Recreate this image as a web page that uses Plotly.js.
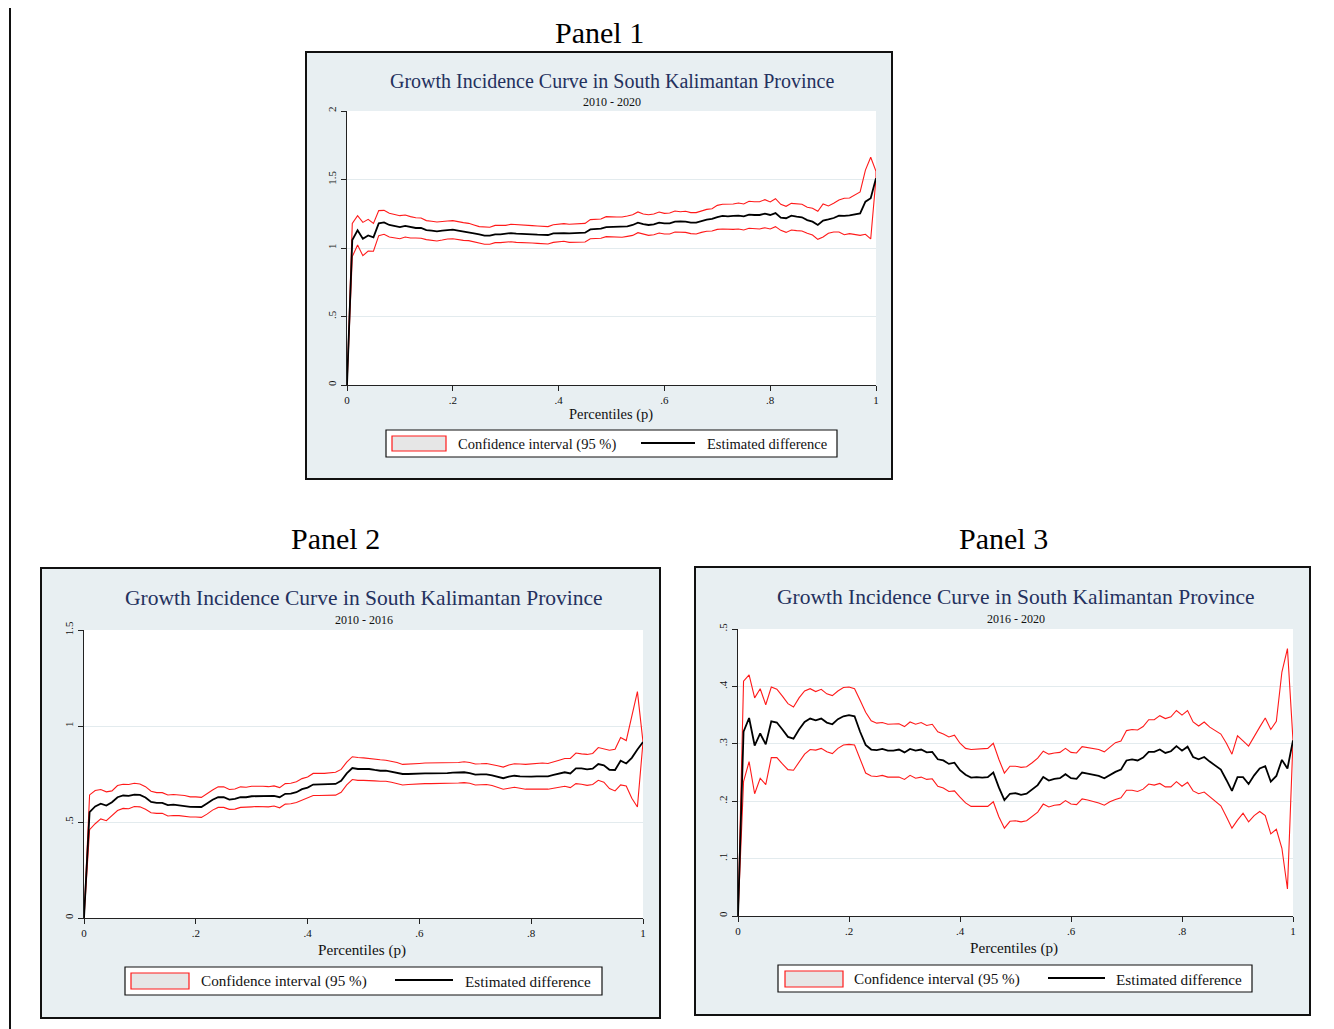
<!DOCTYPE html>
<html>
<head>
<meta charset="utf-8">
<script src="https://cdn.plot.ly/plotly-3.0.1.min.js"></script>
<style>html,body{margin:0;padding:0;background:#fff}#chart{width:1334px;height:1029px}</style>
</head>
<body>
<div id="chart"></div>
<script>
// ---------------- DATA ----------------
const percentiles = [0,0.01,0.02,0.03,0.04,0.05,0.06,0.07,0.08,0.09,0.10,
0.11,0.12,0.13,0.14,0.15,0.16,0.17,0.18,0.19,0.20,
0.21,0.22,0.23,0.24,0.25,0.26,0.27,0.28,0.29,0.30,
0.31,0.32,0.33,0.34,0.35,0.36,0.37,0.38,0.39,0.40,
0.41,0.42,0.43,0.44,0.45,0.46,0.47,0.48,0.49,0.50,
0.51,0.52,0.53,0.54,0.55,0.56,0.57,0.58,0.59,0.60,
0.61,0.62,0.63,0.64,0.65,0.66,0.67,0.68,0.69,0.70,
0.71,0.72,0.73,0.74,0.75,0.76,0.77,0.78,0.79,0.80,
0.81,0.82,0.83,0.84,0.85,0.86,0.87,0.88,0.89,0.90,
0.91,0.92,0.93,0.94,0.95,0.96,0.97,0.98,0.99,1.00];

// Panel 1: 2010 - 2020
const p1Est = [0,1.058,1.129,1.068,1.092,1.078,1.180,1.187,1.168,1.158,1.153,
1.161,1.151,1.146,1.146,1.131,1.127,1.122,1.127,1.131,1.134,
1.127,1.122,1.117,1.107,1.100,1.090,1.090,1.100,1.100,1.105,
1.109,1.105,1.105,1.102,1.100,1.097,1.095,1.095,1.107,1.109,
1.109,1.107,1.107,1.109,1.112,1.136,1.136,1.141,1.153,1.153,
1.153,1.153,1.158,1.168,1.185,1.175,1.168,1.173,1.185,1.180,
1.180,1.192,1.195,1.192,1.185,1.185,1.197,1.207,1.212,1.226,
1.234,1.231,1.234,1.236,1.231,1.243,1.241,1.241,1.251,1.241,
1.255,1.221,1.217,1.236,1.229,1.224,1.204,1.192,1.168,1.200,
1.209,1.219,1.236,1.234,1.238,1.248,1.253,1.338,1.363,1.509];
const p1Hi = [0,1.180,1.236,1.187,1.209,1.180,1.273,1.275,1.253,1.243,1.236,
1.241,1.229,1.221,1.219,1.200,1.195,1.190,1.195,1.197,1.200,
1.190,1.185,1.180,1.168,1.156,1.151,1.151,1.165,1.163,1.165,
1.173,1.168,1.168,1.165,1.163,1.161,1.156,1.156,1.170,1.173,
1.178,1.173,1.175,1.178,1.180,1.207,1.209,1.212,1.229,1.229,
1.226,1.226,1.234,1.243,1.263,1.248,1.243,1.248,1.263,1.253,
1.255,1.270,1.265,1.268,1.258,1.258,1.270,1.282,1.287,1.311,
1.319,1.319,1.321,1.328,1.321,1.341,1.338,1.338,1.353,1.336,
1.360,1.319,1.304,1.326,1.324,1.319,1.297,1.290,1.268,1.321,
1.307,1.326,1.350,1.363,1.365,1.387,1.409,1.569,1.662,1.560];
const p1Lo = [0,0.937,1.022,0.944,0.978,0.976,1.090,1.100,1.080,1.073,1.068,
1.080,1.073,1.073,1.071,1.061,1.056,1.051,1.058,1.066,1.068,
1.061,1.056,1.054,1.044,1.039,1.027,1.027,1.039,1.039,1.044,
1.046,1.041,1.041,1.039,1.036,1.034,1.032,1.029,1.041,1.044,
1.049,1.041,1.041,1.041,1.044,1.068,1.068,1.071,1.083,1.083,
1.080,1.078,1.085,1.092,1.112,1.100,1.092,1.097,1.109,1.102,
1.102,1.117,1.114,1.114,1.105,1.102,1.114,1.122,1.124,1.136,
1.139,1.136,1.136,1.139,1.131,1.144,1.139,1.139,1.148,1.139,
1.156,1.129,1.114,1.131,1.127,1.124,1.107,1.095,1.063,1.080,
1.107,1.117,1.117,1.097,1.105,1.100,1.092,1.100,1.066,1.509];

// Panel 2: 2010 - 2016
const p2Est = [0,0.552,0.581,0.595,0.586,0.603,0.629,0.638,0.636,0.643,0.641,
0.628,0.605,0.600,0.600,0.588,0.590,0.588,0.583,0.579,0.579,
0.578,0.597,0.616,0.629,0.629,0.617,0.621,0.629,0.629,0.634,
0.634,0.634,0.633,0.636,0.629,0.647,0.648,0.655,0.671,0.679,
0.695,0.695,0.695,0.697,0.698,0.714,0.753,0.781,0.776,0.776,
0.776,0.771,0.767,0.767,0.762,0.755,0.750,0.750,0.752,0.753,
0.753,0.753,0.753,0.755,0.755,0.757,0.757,0.759,0.755,0.747,
0.748,0.748,0.743,0.736,0.728,0.736,0.741,0.738,0.736,0.736,
0.738,0.738,0.738,0.745,0.753,0.759,0.753,0.779,0.779,0.774,
0.778,0.802,0.795,0.772,0.771,0.819,0.805,0.834,0.878,0.917];
const p2Hi = [0,0.641,0.664,0.669,0.657,0.662,0.690,0.697,0.695,0.702,0.698,
0.684,0.660,0.653,0.653,0.641,0.643,0.641,0.638,0.631,0.631,
0.628,0.647,0.667,0.683,0.683,0.669,0.672,0.683,0.681,0.686,
0.686,0.686,0.684,0.688,0.679,0.700,0.702,0.710,0.726,0.734,
0.753,0.753,0.753,0.755,0.759,0.774,0.812,0.840,0.836,0.834,
0.833,0.828,0.824,0.822,0.817,0.810,0.800,0.800,0.803,0.805,
0.807,0.807,0.807,0.809,0.809,0.810,0.810,0.814,0.810,0.802,
0.803,0.805,0.800,0.793,0.786,0.797,0.803,0.802,0.800,0.800,
0.805,0.807,0.805,0.814,0.822,0.831,0.831,0.859,0.855,0.852,
0.857,0.888,0.881,0.874,0.879,0.940,0.924,1.047,1.179,0.917];
const p2Lo = [0,0.460,0.491,0.516,0.507,0.533,0.560,0.571,0.569,0.581,0.579,
0.566,0.548,0.545,0.545,0.531,0.534,0.533,0.529,0.526,0.526,
0.524,0.541,0.562,0.576,0.576,0.566,0.567,0.576,0.576,0.579,
0.581,0.581,0.579,0.583,0.574,0.593,0.595,0.602,0.614,0.624,
0.638,0.638,0.638,0.638,0.640,0.655,0.693,0.721,0.717,0.717,
0.717,0.714,0.712,0.712,0.707,0.702,0.693,0.695,0.697,0.700,
0.700,0.700,0.700,0.702,0.702,0.702,0.703,0.705,0.702,0.693,
0.695,0.695,0.690,0.681,0.671,0.676,0.681,0.676,0.671,0.671,
0.672,0.672,0.671,0.676,0.681,0.686,0.679,0.700,0.697,0.691,
0.695,0.717,0.707,0.674,0.662,0.693,0.688,0.624,0.578,0.917];

// Panel 3: 2016 - 2020
const p3Est = [0,0.321,0.345,0.297,0.318,0.299,0.339,0.337,0.325,0.312,0.309,
0.325,0.338,0.344,0.341,0.344,0.337,0.334,0.343,0.348,0.350,
0.348,0.321,0.298,0.290,0.289,0.291,0.288,0.288,0.290,0.285,
0.291,0.288,0.290,0.285,0.286,0.273,0.271,0.265,0.267,0.254,
0.246,0.241,0.242,0.241,0.242,0.250,0.224,0.202,0.213,0.214,
0.211,0.213,0.220,0.228,0.242,0.236,0.239,0.240,0.247,0.240,
0.239,0.250,0.248,0.246,0.244,0.240,0.246,0.251,0.255,0.271,
0.273,0.271,0.276,0.286,0.286,0.290,0.284,0.287,0.296,0.288,
0.295,0.277,0.273,0.277,0.269,0.262,0.255,0.237,0.218,0.242,
0.242,0.230,0.245,0.257,0.261,0.234,0.244,0.272,0.257,0.306];
const p3Hi = [0,0.409,0.420,0.380,0.396,0.368,0.399,0.395,0.383,0.370,0.364,
0.380,0.392,0.396,0.391,0.395,0.387,0.384,0.392,0.398,0.399,
0.396,0.376,0.355,0.340,0.336,0.337,0.334,0.334,0.335,0.330,
0.338,0.334,0.337,0.332,0.334,0.321,0.317,0.312,0.315,0.301,
0.292,0.290,0.291,0.291,0.292,0.301,0.273,0.249,0.261,0.261,
0.259,0.260,0.267,0.275,0.287,0.282,0.284,0.285,0.292,0.285,
0.284,0.295,0.293,0.292,0.290,0.286,0.294,0.302,0.305,0.323,
0.325,0.324,0.330,0.342,0.342,0.349,0.344,0.347,0.358,0.350,
0.358,0.338,0.331,0.338,0.329,0.323,0.317,0.301,0.282,0.314,
0.305,0.296,0.313,0.329,0.345,0.325,0.339,0.425,0.466,0.306];
const p3Lo = [0,0.234,0.269,0.213,0.240,0.229,0.276,0.276,0.265,0.255,0.254,
0.268,0.282,0.290,0.289,0.292,0.286,0.283,0.292,0.298,0.299,
0.298,0.272,0.249,0.244,0.243,0.245,0.242,0.242,0.242,0.238,
0.245,0.240,0.242,0.238,0.239,0.226,0.223,0.217,0.218,0.207,
0.197,0.191,0.191,0.191,0.191,0.199,0.173,0.153,0.165,0.166,
0.164,0.166,0.173,0.181,0.195,0.190,0.193,0.194,0.201,0.195,
0.194,0.204,0.202,0.200,0.197,0.193,0.199,0.203,0.206,0.219,
0.219,0.217,0.221,0.230,0.228,0.231,0.225,0.225,0.234,0.226,
0.233,0.218,0.213,0.216,0.208,0.201,0.192,0.173,0.153,0.167,
0.179,0.164,0.175,0.182,0.175,0.143,0.151,0.118,0.047,0.306];

const xTickVals = [0,0.2,0.4,0.6,0.8,1];
const xTickText = ['0','.2','.4','.6','.8','1'];
const y1TickVals = [0,0.5,1,1.5,2];
const y1TickText = ['0','.5','1','1.5','2'];
const y2TickVals = [0,0.5,1,1.5];
const y2TickText = ['0','.5','1','1.5'];
const y3TickVals = [0,0.1,0.2,0.3,0.4,0.5];
const y3TickText = ['0','.1','.2','.3','.4','.5'];

const panelLabels = ['Panel 1','Panel 2','Panel 3'];
const chartTitle = 'Growth Incidence Curve in South Kalimantan Province';
const subtitles = ['2010 - 2020','2010 - 2016','2016 - 2020'];
const xTitle = 'Percentiles (p)';
const legendCI = 'Confidence interval (95 %)';
const legendEst = 'Estimated difference';

// ---------------- LAYOUT HELPERS ----------------
const W = 1334, H = 1029;
const px = v => v / W;
const py = v => 1 - v / H;
const SERIF = 'Liberation Serif, Times New Roman, serif';
const NAVY = '#24315e';
const REGION = '#e8eff2';
const GRID = '#e3ebee';

// pixel geometry of each panel (style only)
const geo = [
  {box:[306,52,892,479], plot:[347,111,876,385], label:[599,32], title:[612,81,20], sub:[612,102],
   xt:[611,414,14.5], leg:[386,430,837,457], sw:[392,436,446,451], t1:456, ln:[641,695], t2:705, ly:444, lf:14.5},
  {box:[41,568,660,1018], plot:[84,630,643,918], label:[335,538], title:[364,598,21.5], sub:[364,620],
   xt:[362,950,15.2], leg:[125,967,602,995], sw:[131,973,189,989], t1:199, ln:[395,453], t2:463, ly:981, lf:15.2},
  {box:[695,567,1310,1015], plot:[738,629,1293,916], label:[1003,538], title:[1016,597,21.5], sub:[1016,619],
   xt:[1014,948,15.2], leg:[778,965,1252,992], sw:[785,971,843,987], t1:852, ln:[1048,1105], t2:1114, ly:979, lf:15.2}
];

const series = [
  {est:p1Est, hi:p1Hi, lo:p1Lo, range:[0,2], tv:y1TickVals, tt:y1TickText},
  {est:p2Est, hi:p2Hi, lo:p2Lo, range:[0,1.5], tv:y2TickVals, tt:y2TickText},
  {est:p3Est, hi:p3Hi, lo:p3Lo, range:[0,0.5], tv:y3TickVals, tt:y3TickText}
];

const traces = [];
const layout = {
  width: W, height: H,
  margin: {l:0, r:0, t:0, b:0},
  paper_bgcolor: '#ffffff',
  plot_bgcolor: '#ffffff',
  showlegend: false,
  font: {family: SERIF, color: '#111'},
  shapes: [], annotations: []
};

// left vertical rule
layout.shapes.push({type:'line', xref:'paper', yref:'paper', x0:px(10), x1:px(10), y0:py(8), y1:py(1029),
  line:{color:'#111', width:2}, layer:'above'});

series.forEach((s, i) => {
  const g = geo[i];
  const n = i === 0 ? '' : String(i + 1);
  const xa = 'x' + n, ya = 'y' + n;

  // outer graph region
  layout.shapes.push({type:'rect', xref:'paper', yref:'paper', layer:'below',
    x0:px(g.box[0]), x1:px(g.box[2]), y0:py(g.box[3]), y1:py(g.box[1]),
    fillcolor:REGION, line:{color:'#111', width:2}});
  // white plot region on top of the graph region
  layout.shapes.push({type:'rect', xref:'paper', yref:'paper', layer:'below',
    x0:px(g.plot[0]), x1:px(g.plot[2]), y0:py(g.plot[3]), y1:py(g.plot[1]),
    fillcolor:'#ffffff', line:{width:0}});

  // axes
  layout['xaxis' + n] = {
    domain:[px(g.plot[0]), px(g.plot[2])], anchor:ya, range:[0,1],
    tickvals:xTickVals, ticktext:xTickText, ticks:'outside', ticklen:5, tickwidth:1, tickcolor:'#222',
    showline:true, linecolor:'#222', linewidth:1.2, showgrid:false, zeroline:false,
    tickfont:{family:SERIF, size:11, color:'#111'}, fixedrange:true
  };
  layout['yaxis' + n] = {
    domain:[py(g.plot[3]), py(g.plot[1])], anchor:xa, range:s.range,
    tickvals:s.tv, ticktext:s.tt, ticks:'outside', ticklen:5, tickwidth:1, tickcolor:'#222', tickangle:-90,
    showline:true, linecolor:'#222', linewidth:1.2, showgrid:true, gridcolor:GRID, gridwidth:1, zeroline:false,
    tickfont:{family:SERIF, size:11, color:'#111'}, fixedrange:true
  };

  // confidence band outline (lower path then upper path back)
  traces.push({
    type:'scatter', mode:'lines', xaxis:xa, yaxis:ya, name:legendCI,
    x: percentiles.concat(percentiles.slice().reverse()),
    y: s.lo.concat(s.hi.slice().reverse()),
    line:{color:'#ff1a1a', width:1.1}, hoverinfo:'skip'
  });
  // estimated difference
  traces.push({
    type:'scatter', mode:'lines', xaxis:xa, yaxis:ya, name:legendEst,
    x: percentiles, y: s.est,
    line:{color:'#000000', width:1.8}
  });

  // panel label
  layout.annotations.push({text:panelLabels[i], xref:'paper', yref:'paper', x:px(g.label[0]), y:py(g.label[1]),
    xanchor:'center', yanchor:'middle', showarrow:false, font:{family:SERIF, size:30, color:'#000'}});
  // chart title
  layout.annotations.push({text:chartTitle, xref:'paper', yref:'paper', x:px(g.title[0]), y:py(g.title[1]),
    xanchor:'center', yanchor:'middle', showarrow:false, font:{family:SERIF, size:g.title[2], color:NAVY}});
  // subtitle
  layout.annotations.push({text:subtitles[i], xref:'paper', yref:'paper', x:px(g.sub[0]), y:py(g.sub[1]),
    xanchor:'center', yanchor:'middle', showarrow:false, font:{family:SERIF, size:12, color:'#111'}});
  // x-axis title
  layout.annotations.push({text:xTitle, xref:'paper', yref:'paper', x:px(g.xt[0]), y:py(g.xt[1]),
    xanchor:'center', yanchor:'middle', showarrow:false, font:{family:SERIF, size:g.xt[2], color:'#111'}});

  // legend box
  layout.shapes.push({type:'rect', xref:'paper', yref:'paper', layer:'above',
    x0:px(g.leg[0]), x1:px(g.leg[2]), y0:py(g.leg[3]), y1:py(g.leg[1]),
    fillcolor:'#ffffff', line:{color:'#111', width:1.2}});
  layout.shapes.push({type:'rect', xref:'paper', yref:'paper', layer:'above',
    x0:px(g.sw[0]), x1:px(g.sw[2]), y0:py(g.sw[3]), y1:py(g.sw[1]),
    fillcolor:'#e6e6e6', line:{color:'#ff1a1a', width:1.2}});
  layout.shapes.push({type:'line', xref:'paper', yref:'paper', layer:'above',
    x0:px(g.ln[0]), x1:px(g.ln[1]), y0:py(g.ly - 1), y1:py(g.ly - 1),
    line:{color:'#000', width:1.8}});
  layout.annotations.push({text:legendCI, xref:'paper', yref:'paper', x:px(g.t1), y:py(g.ly),
    xanchor:'left', yanchor:'middle', showarrow:false, font:{family:SERIF, size:g.lf, color:'#111'}});
  layout.annotations.push({text:legendEst, xref:'paper', yref:'paper', x:px(g.t2), y:py(g.ly),
    xanchor:'left', yanchor:'middle', showarrow:false, font:{family:SERIF, size:g.lf, color:'#111'}});
});

Plotly.newPlot('chart', traces, layout, {displayModeBar:false, staticPlot:true});
</script>
</body>
</html>
